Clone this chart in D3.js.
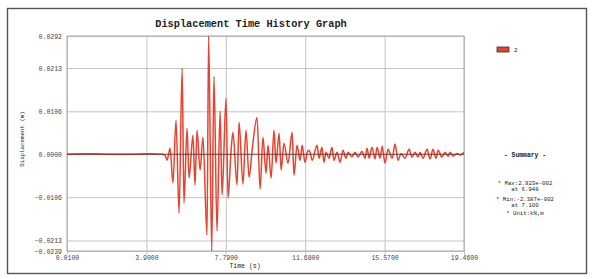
<!DOCTYPE html>
<html lang="en">
<head>
<meta charset="UTF-8">
<title>Displacement Time History Graph</title>
<script src="https://d3js.org/d3.v7.min.js"></script>
<style>
    body { margin: 0; background: #fff; }
    svg { display: block; }
    .tick text { font-family: "Liberation Mono", "DejaVu Sans Mono", monospace; font-size: 6.5px; fill: #444; }
    .grid line { stroke: #c4c4c4; stroke-width: 1; }
    .mono { font-family: "Liberation Mono", "DejaVu Sans Mono", monospace; fill: #222; }
</style>
</head>
<body>
<svg id="chart"></svg>
<script>
// time (s), displacement (m) - peaks and troughs
const displacement = [
    [0.01, 0], [1.14, 0.0001], [2.12, 0], [3.10, 0], [4.08, 0.0001], [4.67, 0],
    [4.81, -0.0002], [4.91, -0.0015], [5.06, 0.0015], [5.20, -0.0071], [5.35, 0.0084],
    [5.50, -0.0145], [5.65, 0.0212], [5.74, -0.0121], [5.89, 0.0064], [5.99, -0.0059],
    [6.18, 0.0047], [6.28, -0.0076], [6.38, 0.0059], [6.53, -0.0039], [6.67, 0.0042],
    [6.87, -0.0200], [6.948, 0.0292], [7.10, -0.0239], [7.21, 0.0192], [7.36, -0.0190],
    [7.51, 0.0106], [7.61, -0.0101], [7.80, 0.0138], [7.90, -0.0108], [8.05, 0.0010],
    [8.14, 0.0054], [8.34, -0.0076], [8.44, 0.0079], [8.63, -0.0074], [8.78, 0.0059],
    [8.93, -0.0057], [9.08, 0.0010], [9.32, 0.0091], [9.47, -0.0086], [9.61, 0.0042],
    [9.76, -0.0047], [9.86, 0.0022], [10.01, -0.0059], [10.15, 0.0059], [10.25, -0.0022],
    [10.40, 0.0052], [10.50, -0.0039], [10.64, 0.0027], [10.84, -0.0022], [11.04, 0.0054],
    [11.13, -0.0052], [11.28, 0.0022], [11.43, -0.0015], [11.53, 0.0022], [11.67, -0.0020],
    [11.82, 0.0010], [11.92, 0.0005], [12.02, -0.0015], [12.26, 0.0022], [12.36, -0.0010],
    [12.50, 0.0017], [12.60, -0.0020], [12.70, 0.0005], [12.85, -0.0010], [12.99, 0.0017],
    [13.09, -0.0015], [13.24, 0.0005], [13.39, -0.0020], [13.53, 0.0010], [13.68, -0.0010],
    [13.78, 0.0005], [13.97, -0.0007], [14.12, 0.0005], [14.27, -0.0007], [14.46, 0.0007],
    [14.61, -0.0010], [14.71, 0.0015], [14.81, -0.0010], [14.95, 0.0017], [15.10, -0.0012],
    [15.20, 0.0017], [15.35, -0.0010], [15.45, 0.0020], [15.59, -0.0022], [15.74, 0.0012],
    [15.94, -0.0010], [16.08, 0.0025], [16.23, -0.0015], [16.38, 0.0002], [16.57, -0.0010],
    [16.77, 0.0012], [16.91, -0.0007], [17.06, 0.0005], [17.21, -0.0007], [17.31, 0.0005],
    [17.45, -0.0010], [17.65, 0.0012], [17.80, -0.0012], [17.94, 0.0012], [18.09, -0.0010],
    [18.19, 0.0010], [18.38, -0.0007], [18.53, 0.0005], [18.68, -0.0005], [18.78, 0.0005],
    [18.92, -0.0005], [19.12, 0.0002], [19.27, -0.0002], [19.46, 0.0005]
];
const xTicks = [0.01, 3.90, 7.79, 11.68, 15.57, 19.46];
const yTicks = [0.0292, 0.0213, 0.0106, 0, -0.0106, -0.0213, -0.0239];
const seriesName = "2";
const summaryLines = ["* Max:2.923e-002", "at  6.948", "* Min:-2.387e-002", "at  7.100", "* Unit:kN,m"];

const width = 598, height = 279;
const margin = { top: 36, right: 134, bottom: 28, left: 67 };
const svg = d3.select("#chart").attr("width", width).attr("height", height);

// outer frame
svg.append("rect").attr("x", 7.5).attr("y", 8.5).attr("width", 579).attr("height", 265)
    .attr("fill", "#fff").attr("stroke", "#555").attr("stroke-width", 1.4);

const x = d3.scaleLinear().domain([0.01, 19.46]).range([margin.left, width - margin.right]);
const y = d3.scaleLinear().domain([-0.0239, 0.0292]).range([height - margin.bottom, margin.top]);

// grid + axes
svg.append("g").attr("class", "grid")
    .attr("transform", `translate(0,${height - margin.bottom})`)
    .call(d3.axisBottom(x).tickValues(xTicks).tickSizeInner(-(y.range()[0] - y.range()[1])).tickSizeOuter(0)
        .tickPadding(4).tickFormat(d3.format(".4f")))
    .call(g => g.select(".domain").remove())
    .call(g => g.selectAll(".tick").append("line").attr("y2", 4).attr("stroke", "#888"));

svg.append("g").attr("class", "grid")
    .attr("transform", `translate(${margin.left},0)`)
    .call(d3.axisLeft(y).tickValues(yTicks).tickSizeInner(-(x.range()[1] - x.range()[0])).tickSizeOuter(0)
        .tickPadding(5).tickFormat(d3.format(".4f")))
    .call(g => g.select(".domain").remove());

// plot border
svg.append("rect").attr("x", margin.left).attr("y", margin.top)
    .attr("width", x.range()[1] - x.range()[0]).attr("height", y.range()[0] - y.range()[1])
    .attr("fill", "none").attr("stroke", "#aaa");

// series
svg.append("path").datum(displacement)
    .attr("fill", "none").attr("stroke", "#e8412f").attr("stroke-width", 1.5)
    .attr("stroke-linejoin", "round")
    .attr("d", d3.line().curve(d3.curveMonotoneX).x(d => x(d[0])).y(d => y(d[1])));

// zero line
svg.append("line").attr("x1", x.range()[0]).attr("x2", x.range()[1])
    .attr("y1", y(0)).attr("y2", y(0)).attr("stroke", "#5a2a22").attr("stroke-width", 0.8);

// titles
svg.append("text").attr("class", "mono").attr("x", 251).attr("y", 27)
    .attr("text-anchor", "middle").attr("font-size", 10.3).attr("font-weight", "bold")
    .text("Displacement Time History Graph");
svg.append("text").attr("class", "mono").attr("x", 245).attr("y", 268)
    .attr("text-anchor", "middle").attr("font-size", 6.5).text("Time (s)");
svg.append("text").attr("class", "mono").attr("transform", "translate(24,139) rotate(-90)")
    .attr("text-anchor", "middle").attr("font-size", 5.8).text("Displacement (m)");

// legend
svg.append("rect").attr("x", 497).attr("y", 47).attr("width", 12).attr("height", 5)
    .attr("fill", "#e8412f").attr("stroke", "#333").attr("stroke-width", 0.8);
svg.append("text").attr("class", "mono").attr("x", 514).attr("y", 52)
    .attr("font-size", 6).text(seriesName);

// summary
svg.append("text").attr("class", "mono").attr("x", 525).attr("y", 157)
    .attr("text-anchor", "middle").attr("font-size", 6.4).attr("font-weight", "bold").text("- Summary -");
const summaryY = [185, 191, 201, 207, 215];
svg.selectAll(".summary").data(summaryLines).enter().append("text")
    .attr("class", "mono summary").attr("x", 525).attr("y", (d, i) => summaryY[i])
    .attr("text-anchor", "middle").attr("font-size", 5.7).text(d => d);
</script>
</body>
</html>
